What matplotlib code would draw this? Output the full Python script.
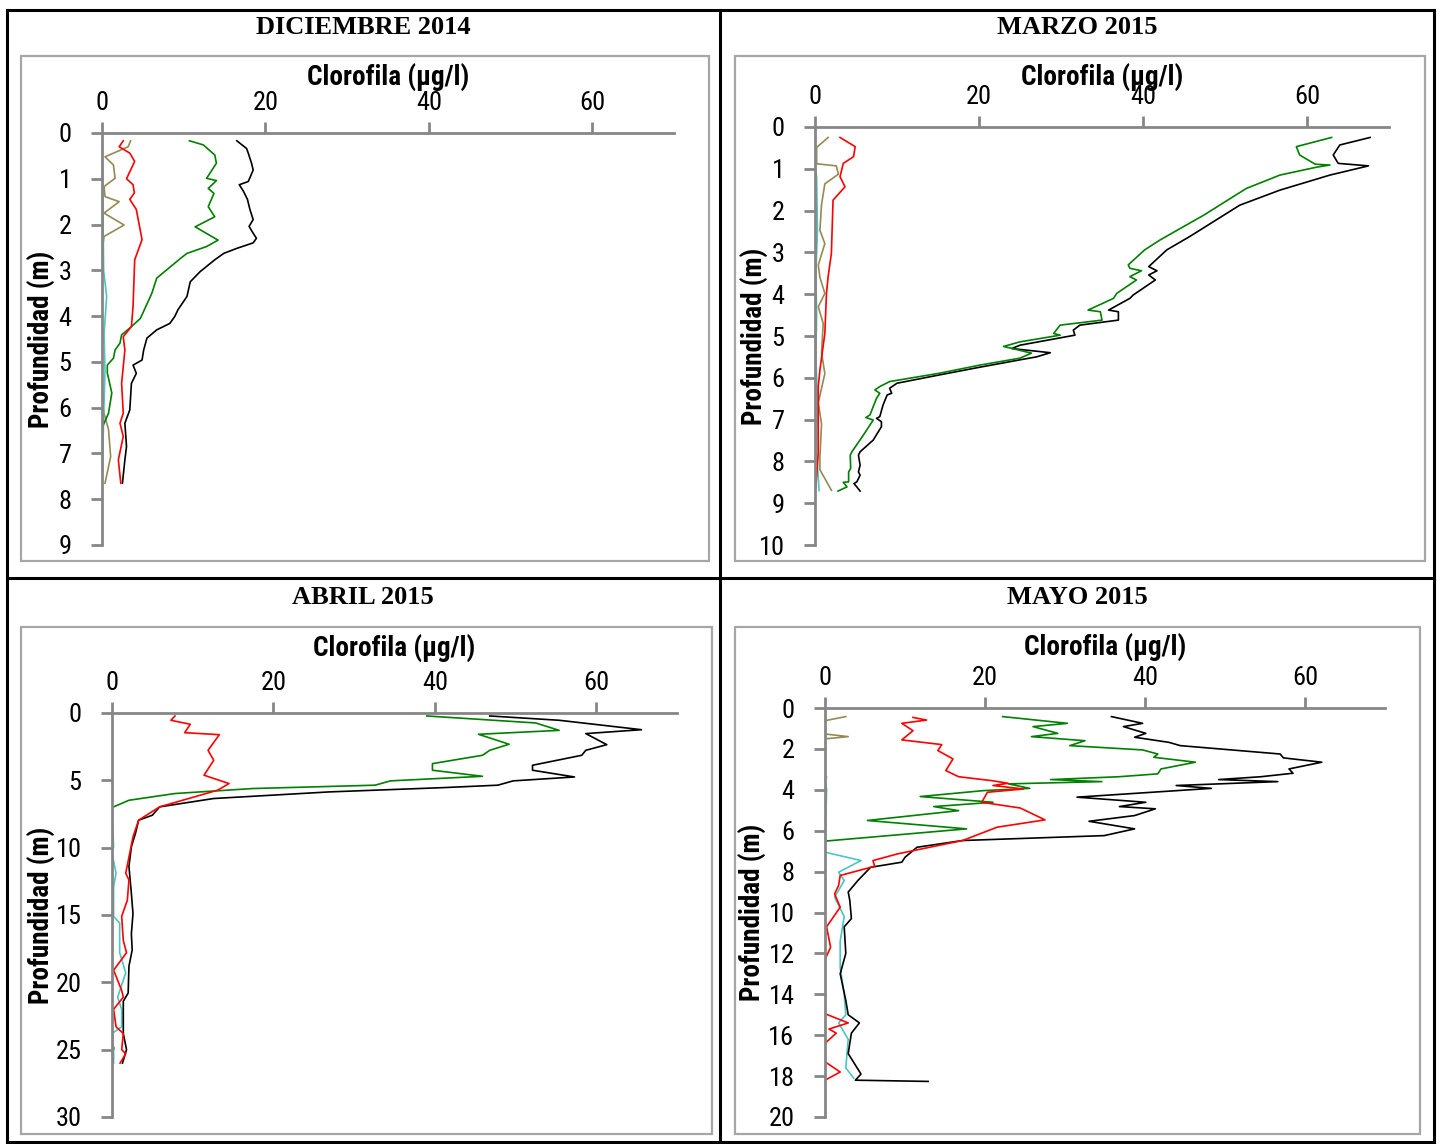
import matplotlib.pyplot as plt
from matplotlib import font_manager
from matplotlib.lines import Line2D
from matplotlib.patches import Rectangle

# ---- data: chlorophyll (ug/l) vs depth (m) ----
# DICIEMBRE 2014
dic_black_x = [16.5, 17.7, 17.9, 18.3, 18.5, 17.9, 16.8, 17.3, 17.8, 18.1, 18.5, 18.0, 18.5, 18.9, 18.5, 16.5, 14.9, 13.8, 12.0, 10.8, 10.4, 9.3, 8.9, 8.3, 6.7, 5.5, 5.1, 4.9, 3.8, 4.2, 3.6, 3.4, 2.8, 3.0, 2.8, 2.5]
dic_black_d = [0.17, 0.34, 0.44, 0.66, 0.81, 1.06, 1.13, 1.27, 1.45, 1.67, 1.89, 2.04, 2.19, 2.30, 2.40, 2.52, 2.63, 2.77, 3.03, 3.25, 3.57, 3.86, 4.01, 4.16, 4.30, 4.48, 4.74, 4.96, 5.07, 5.25, 5.47, 6.05, 6.34, 6.85, 7.14, 7.65]
dic_green_x = [10.7, 12.4, 13.8, 14.0, 12.8, 14.0, 13.0, 13.7, 13.0, 13.8, 11.4, 14.2, 12.8, 10.4, 9.6, 6.7, 6.1, 4.7, 3.6, 2.4, 2.2, 1.6, 1.4, 0.65, 0.65, 1.2, 0.8, 0.25, 0.0]
dic_green_d = [0.17, 0.26, 0.48, 0.66, 0.99, 1.04, 1.21, 1.32, 1.61, 1.83, 2.05, 2.34, 2.48, 2.63, 2.74, 3.17, 3.50, 4.05, 4.23, 4.41, 4.59, 4.74, 4.92, 5.07, 5.24, 5.68, 6.12, 6.34, 6.45]
dic_red_x = [2.6, 2.1, 3.4, 4.0, 3.0, 3.8, 3.96, 3.4, 4.2, 4.9, 4.0, 3.8, 3.6, 2.6, 2.8, 2.4, 2.6, 2.2, 2.6, 2.0, 2.3]
dic_red_d = [0.17, 0.30, 0.44, 0.62, 1.00, 1.13, 1.31, 1.45, 1.67, 2.33, 2.77, 3.79, 4.23, 4.45, 4.74, 5.47, 6.12, 6.34, 6.63, 7.14, 7.65]
dic_cyan_x = [0.0, 0.1, 0.2, 0.57, 0.25, 0.37, 0.2, 0.1, 0.0]
dic_cyan_d = [0.17, 1.5, 3.0, 3.57, 4.4, 5.2, 6.2, 7.0, 7.65]
dic_tan_x = [3.5, 3.2, 0.37, 1.4, 1.6, 0.25, 0.37, 2.1, 0.25, 2.7, 0.25, 0.0, 0.0, 0.25, 0.8, 1.06, 0.37]
dic_tan_d = [0.17, 0.30, 0.52, 0.70, 0.99, 1.17, 1.39, 1.50, 1.75, 2.01, 2.26, 2.60, 5.80, 6.12, 6.48, 7.07, 7.65]

# MARZO 2015
mar_black_x = [67.7, 64.0, 63.2, 63.8, 67.5, 62.8, 56.7, 51.8, 45.7, 42.9, 40.7, 41.7, 40.7, 41.5, 38.8, 38.4, 35.8, 37.0, 37.0, 32.3, 31.5, 31.7, 25.0, 24.0, 28.7, 27.0, 25.0, 20.0, 15.2, 10.0, 9.1, 9.35, 8.8, 8.3, 7.9, 7.5, 8.1, 8.1, 7.1, 5.5, 5.3, 5.5, 5.3, 5.5, 5.1, 4.75, 5.1, 5.5]
mar_black_d = [0.25, 0.43, 0.67, 0.87, 0.93, 1.15, 1.51, 1.87, 2.62, 2.94, 3.34, 3.44, 3.54, 3.66, 4.02, 4.10, 4.38, 4.42, 4.62, 4.74, 4.86, 4.98, 5.22, 5.30, 5.40, 5.50, 5.57, 5.75, 5.93, 6.13, 6.25, 6.37, 6.41, 6.65, 6.93, 6.97, 7.05, 7.17, 7.49, 7.77, 7.85, 8.09, 8.25, 8.33, 8.49, 8.53, 8.61, 8.71]
mar_green_x = [63.0, 58.7, 59.1, 61.0, 62.8, 61.2, 56.7, 52.6, 47.4, 42.1, 40.2, 38.2, 38.4, 39.8, 38.4, 39.2, 36.8, 36.4, 33.3, 34.8, 35.0, 29.9, 29.1, 29.9, 25.0, 23.0, 26.4, 25.0, 20.0, 15.2, 9.1, 7.9, 7.3, 7.9, 7.5, 6.7, 6.2, 7.1, 5.9, 4.5, 4.3, 4.35, 4.1, 4.1, 3.45, 3.9, 2.8]
mar_green_d = [0.25, 0.47, 0.67, 0.89, 0.91, 0.96, 1.15, 1.47, 2.11, 2.70, 2.94, 3.30, 3.38, 3.44, 3.58, 3.66, 3.98, 4.10, 4.38, 4.42, 4.62, 4.74, 4.94, 4.98, 5.14, 5.25, 5.41, 5.53, 5.70, 5.89, 6.09, 6.21, 6.29, 6.37, 6.49, 6.89, 6.95, 7.01, 7.37, 7.77, 7.85, 8.17, 8.25, 8.49, 8.50, 8.61, 8.71]
mar_red_x = [3.05, 4.9, 4.7, 3.45, 3.05, 3.66, 2.2, 2.0, 1.6, 1.4, 1.2, 0.6, 0.4, 0.4, 0.1]
mar_red_d = [0.25, 0.47, 0.71, 0.87, 1.19, 1.43, 1.75, 3.02, 3.58, 3.98, 4.94, 5.81, 6.21, 7.80, 8.61]
mar_cyan_x = [0.0, 0.2, 0.3, 0.1, 0.2, 0.1, 0.3, 0.2, 0.5]
mar_cyan_d = [0.90, 1.20, 2.50, 3.50, 4.50, 5.50, 6.50, 7.80, 8.70]
mar_tan_x = [1.6, 0.2, 0.2, 2.6, 2.85, 1.2, 0.8, 0.6, 1.2, 0.4, 0.6, 1.2, 0.4, 1.0, 0.8, 1.2, 0.4, 0.8, 0.6, 0.6, 2.0]
mar_tan_d = [0.25, 0.49, 0.88, 0.93, 1.13, 1.36, 1.85, 2.47, 2.79, 3.30, 3.60, 3.98, 4.30, 4.70, 5.40, 5.90, 6.60, 7.10, 7.90, 8.20, 8.69]

# ABRIL 2015
abr_black_x = [46.8, 55.4, 65.6, 58.7, 61.3, 58.7, 58.2, 52.1, 52.1, 57.3, 49.7, 47.8, 41.1, 26.9, 12.6, 5.9, 5.0, 3.3, 2.9, 2.4, 2.1, 2.4, 2.6, 2.4, 2.5, 2.1, 2.0, 1.4, 1.4, 1.8, 1.3]
abr_black_d = [0.22, 0.54, 1.24, 1.53, 2.35, 2.77, 3.14, 3.88, 4.25, 4.75, 5.04, 5.36, 5.54, 5.86, 6.35, 6.97, 7.59, 7.96, 8.95, 9.94, 11.4, 13.4, 14.9, 16.4, 17.6, 18.8, 20.8, 21.4, 23.8, 25.0, 26.0]
abr_green_x = [39.0, 52.5, 55.4, 45.4, 49.2, 46.8, 45.9, 39.7, 39.7, 45.9, 34.5, 32.6, 17.4, 7.8, 2.1, 0.0]
abr_green_d = [0.22, 0.74, 1.29, 1.58, 2.32, 2.77, 3.14, 3.76, 4.25, 4.70, 5.04, 5.36, 5.61, 5.98, 6.48, 7.02]
abr_red_x = [7.8, 7.3, 9.7, 9.0, 13.3, 11.9, 12.6, 11.4, 14.5, 13.1, 5.9, 3.3, 2.6, 1.7, 2.1, 1.9, 1.2, 1.4, 1.8, 0.2, 1.2, 1.4, 0.2, 0.5, 1.4, 1.2, 1.7, 1.0]
abr_red_d = [0.22, 0.54, 0.84, 1.46, 1.61, 2.77, 3.51, 4.62, 5.24, 5.73, 6.97, 7.96, 9.2, 11.9, 12.4, 13.9, 15.1, 16.9, 17.8, 19.1, 20.6, 21.1, 22.0, 23.3, 23.8, 25.0, 25.3, 26.0]
abr_cyan_x = [0.0, 0.2, 0.0, 0.5, 0.2, 0.2, 0.95, 0.95, 1.7, 0.7, 1.2, 1.2, 0.0, 0.2, 0.2]
abr_cyan_d = [7.5, 9.9, 10.4, 11.9, 12.9, 15.1, 15.6, 17.8, 19.3, 21.1, 22.0, 23.3, 23.8, 25.0, 26.0]
abr_tan_x = [0.0, 0.0, 0.0, 0.3, 0.0, 0.0]
abr_tan_d = [0.2, 10.0, 24.6, 24.9, 25.2, 26.0]

# MAYO 2015
may_black_x = [35.8, 39.7, 37.3, 40.1, 38.7, 43.0, 44.4, 56.9, 57.3, 62.1, 58.0, 58.5, 54.5, 49.2, 56.6, 43.9, 48.3, 31.5, 40.1, 36.8, 41.3, 38.7, 33.0, 38.7, 34.9, 17.2, 11.5, 10.0, 9.6, 5.7, 4.1, 2.9, 3.1, 3.3, 2.4, 2.6, 1.9, 2.6, 2.9, 4.3, 3.3, 2.9, 4.5, 3.8, 12.9]
may_black_d = [0.42, 0.75, 0.91, 1.24, 1.43, 1.68, 1.84, 2.25, 2.44, 2.65, 2.98, 3.19, 3.36, 3.50, 3.60, 3.79, 3.93, 4.36, 4.61, 4.82, 4.93, 5.26, 5.54, 5.91, 6.24, 6.48, 6.81, 7.30, 7.54, 7.79, 8.44, 9.00, 9.41, 10.3, 10.7, 12.0, 13.0, 14.3, 15.0, 15.4, 15.9, 16.9, 17.9, 18.2, 18.26]
may_green_x = [22.2, 30.3, 26.0, 29.1, 25.8, 32.5, 30.6, 39.7, 41.6, 41.1, 46.3, 42.0, 41.6, 36.8, 28.2, 34.6, 22.9, 25.6, 19.8, 11.9, 21.0, 13.6, 16.7, 5.3, 17.7, 0.0]
may_green_d = [0.42, 0.75, 0.91, 1.24, 1.40, 1.60, 1.84, 2.05, 2.25, 2.41, 2.65, 2.98, 3.22, 3.36, 3.50, 3.60, 3.71, 3.93, 4.04, 4.33, 4.61, 4.82, 5.02, 5.50, 5.91, 6.51]
may_red_x = [11.0, 12.7, 9.6, 11.0, 9.6, 14.6, 14.1, 16.0, 15.1, 16.7, 20.8, 22.9, 21.0, 24.8, 20.3, 19.6, 24.4, 27.5, 21.5, 17.2, 9.1, 6.0, 6.2, 1.9, 1.7, 1.2, 1.9, 0.2, 0.7, 0.0, 0.0, 2.9, 0.5, 1.4, 0.0, 0.0, 1.9, 0.0]
may_red_d = [0.46, 0.59, 0.75, 1.11, 1.56, 1.79, 2.08, 2.49, 3.06, 3.36, 3.55, 3.68, 3.79, 3.96, 4.12, 4.61, 4.89, 5.47, 5.83, 6.48, 7.13, 7.46, 7.74, 8.19, 8.68, 9.09, 9.74, 10.7, 11.7, 12.3, 14.95, 15.4, 15.7, 15.9, 16.4, 17.3, 17.8, 18.2]
may_cyan_x = [0.2, 0.0, 0.2, 0.0, 4.5, 1.7, 2.4, 1.2, 2.4, 1.9, 1.9, 2.4, 2.6, 1.7, 2.9, 2.6, 3.6]
may_cyan_d = [3.39, 3.6, 3.96, 7.05, 7.46, 8.03, 8.44, 9.25, 10.2, 11.4, 12.7, 14.0, 15.0, 15.4, 16.2, 17.6, 18.1]
may_tan_x = [2.6, 0.0, 0.0, 2.9, 0.0, 0.0]
may_tan_d = [0.42, 0.62, 1.27, 1.40, 1.51, 2.0]

titles = ["DICIEMBRE 2014", "MARZO 2015", "ABRIL 2015", "MAYO 2015"]
depth_max = [9, 10, 30, 20]
depth_step = [1, 1, 5, 2]
chl_ticks = [0, 20, 40, 60]

panels = [
    [(dic_black_x, dic_black_d), (dic_green_x, dic_green_d), (dic_red_x, dic_red_d), (dic_cyan_x, dic_cyan_d), (dic_tan_x, dic_tan_d)],
    [(mar_black_x, mar_black_d), (mar_green_x, mar_green_d), (mar_red_x, mar_red_d), (mar_cyan_x, mar_cyan_d), (mar_tan_x, mar_tan_d)],
    [(abr_black_x, abr_black_d), (abr_green_x, abr_green_d), (abr_red_x, abr_red_d), (abr_cyan_x, abr_cyan_d), (abr_tan_x, abr_tan_d)],
    [(may_black_x, may_black_d), (may_green_x, may_green_d), (may_red_x, may_red_d), (may_cyan_x, may_cyan_d), (may_tan_x, may_tan_d)],
]
colors = ["#000000", "#008000", "#ff0000", "#4bc6c0", "#948a54"]
# draw order: tan, cyan under the others
order = [4, 3, 0, 1, 2]

# pick a narrow sans if one is installed (the original uses a squeezed Calibri)
installed = {f.name for f in font_manager.fontManager.ttflist}
narrow_font = None
for cand in ["Roboto Condensed", "Noto Sans Condensed", "Liberation Sans Narrow", "Open Sans Condensed"]:
    if cand in installed:
        narrow_font = cand
        break
if narrow_font:
    sans = [narrow_font, "DejaVu Sans"]
    tick_fs, lab_fs = 19, 19.5
else:
    sans = ["Lato", "DejaVu Sans"]
    tick_fs, lab_fs = 17, 17
serif = ["Liberation Serif", "DejaVu Serif"]
grey = "#868686"

W, H = 1440, 1144
fig = plt.figure(figsize=(W / 100, H / 100), dpi=100)

def fx(px):
    return px / W

def fy(py):
    return 1 - py / H

# table lines
for xs, ys in [([7, 1434], [10, 10]), ([7, 1434], [1142, 1142]), ([7, 7], [10, 1142]),
               ([1434, 1434], [10, 1142]), ([720, 720], [10, 1142]), ([7, 1434], [578, 578])]:
    fig.add_artist(Line2D([fx(x) for x in xs], [fy(y) for y in ys], color="black", lw=2.2))

# chart boxes (gray frames) in pixels: left, top, right, bottom
boxes = [(21, 56, 709, 561), (735, 56, 1425, 561), (21, 627, 712, 1134), (735, 627, 1420, 1134)]
for l, t, r, b in boxes:
    fig.add_artist(Rectangle((fx(l), fy(b)), (r - l) / W, (b - t) / H, fill=False,
                             edgecolor="#a6a6a6", lw=1.6))

title_pos = [(363, 27), (1077, 27), (363, 598), (1077, 598)]
# axes rectangle in pixels: left, top (depth 0), right (chl 70), bottom (max depth)
axes_px = [(102, 133, 674, 545), (815, 127, 1389, 545), (112, 713, 677, 1117), (825, 708, 1385, 1117)]
xlabel_pos = [(388, 78), (1102, 78), (394, 649), (1105, 648)]
ylabel_x = [42, 755, 42, 753]

for i in range(4):
    fig.text(fx(title_pos[i][0]), fy(title_pos[i][1]), titles[i], ha="center", va="center",
             family=serif, fontweight="bold", fontsize=19)
    l, t, r, b = axes_px[i]
    ax = fig.add_axes([fx(l), fy(b), (r - l) / W, (b - t) / H])
    ax.patch.set_alpha(0)
    for k in order:
        xs, ds = panels[i][k]
        ax.plot(xs, ds, color=colors[k], lw=1.2)
    ax.set_xlim(0, 70)
    ax.set_ylim(depth_max[i], 0)
    ax.set_xticks(chl_ticks)
    ax.set_yticks(list(range(0, depth_max[i] + 1, depth_step[i])))
    ax.xaxis.tick_top()
    for s in ["bottom", "right"]:
        ax.spines[s].set_visible(False)
    for s in ["top", "left"]:
        ax.spines[s].set_color(grey)
        ax.spines[s].set_linewidth(2)
    ax.tick_params(direction="out", length=8, width=2, color=grey, labelsize=tick_fs)
    ax.tick_params(axis="x", pad=5)
    ax.tick_params(axis="y", pad=14)
    for lab in ax.get_xticklabels() + ax.get_yticklabels():
        lab.set_family(sans)
    ax.set_xlabel("Clorofila (µg/l)", family=sans, fontweight="bold", fontsize=lab_fs)
    ax.xaxis.set_label_position("top")
    ax.xaxis.set_label_coords((xlabel_pos[i][0] - l) / (r - l), (b - xlabel_pos[i][1]) / (b - t))
    ax.xaxis.label.set_va("center")
    ax.set_ylabel("Profundidad (m)", family=sans, fontweight="bold", fontsize=lab_fs)
    ax.yaxis.set_label_coords((ylabel_x[i] - l) / (r - l), 0.5)
    ax.yaxis.label.set_va("center")

fig.savefig("out.png", dpi=100)
